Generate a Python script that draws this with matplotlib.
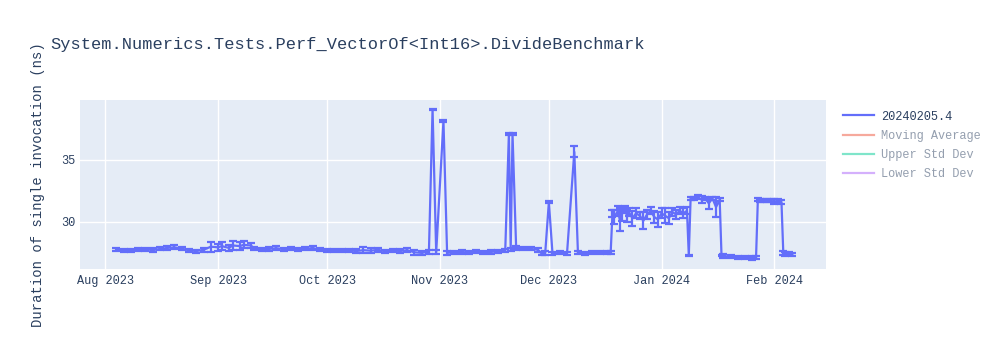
#!/usr/bin/env python3
"""
Benchmark duration chart (plotly-like look) for Perf_VectorOf<Int16>.DivideBenchmark
"""

import matplotlib
matplotlib.use('Agg')
import matplotlib.pyplot as plt
import matplotlib.dates as mdates
from matplotlib.lines import Line2D
import pandas as pd

TITLE = 'System.Numerics.Tests.Perf_VectorOf<Int16>.DivideBenchmark'
Y_LABEL = 'Duration of single invocation (ns)'
SERIES_NAME = '20240205.4'
HIDDEN_SERIES = ['Moving Average', 'Upper Std Dev', 'Lower Std Dev']
HIDDEN_COLORS = ['#EF553B', '#00cc96', '#ab63fa']

# run dates, mean duration (ns) and error (ns)
dates = [
    '2023-08-04', '2023-08-06', '2023-08-08', '2023-08-10', '2023-08-12',
    '2023-08-14', '2023-08-16', '2023-08-18', '2023-08-20', '2023-08-22',
    '2023-08-24', '2023-08-26', '2023-08-28', '2023-08-30', '2023-09-01',
    '2023-09-02', '2023-09-04', '2023-09-05', '2023-09-07', '2023-09-08',
    '2023-09-10', '2023-09-11', '2023-09-13', '2023-09-15', '2023-09-17',
    '2023-09-19', '2023-09-21', '2023-09-23', '2023-09-25', '2023-09-27',
    '2023-09-29', '2023-10-01', '2023-10-03', '2023-10-05', '2023-10-07',
    '2023-10-09', '2023-10-11', '2023-10-13', '2023-10-15', '2023-10-17',
    '2023-10-19', '2023-10-21', '2023-10-23', '2023-10-25', '2023-10-27',
    '2023-10-29', '2023-10-30', '2023-10-31', '2023-11-02', '2023-11-03',
    '2023-11-05', '2023-11-07', '2023-11-09', '2023-11-11', '2023-11-13',
    '2023-11-15', '2023-11-17', '2023-11-19', '2023-11-20', '2023-11-20 12:00',
    '2023-11-21', '2023-11-22', '2023-11-24', '2023-11-26', '2023-11-28',
    '2023-11-29', '2023-11-30', '2023-12-01', '2023-12-02', '2023-12-04',
    '2023-12-06', '2023-12-08', '2023-12-09', '2023-12-11', '2023-12-13',
    '2023-12-15', '2023-12-17', '2023-12-18', '2023-12-18 12:00', '2023-12-19',
    '2023-12-20', '2023-12-20 12:00', '2023-12-21', '2023-12-22', '2023-12-22 12:00',
    '2023-12-23', '2023-12-24', '2023-12-25', '2023-12-26', '2023-12-27',
    '2023-12-28', '2023-12-29', '2023-12-30', '2023-12-31', '2024-01-01',
    '2024-01-02', '2024-01-03', '2024-01-04', '2024-01-05', '2024-01-06',
    '2024-01-07', '2024-01-08', '2024-01-08 12:00', '2024-01-09', '2024-01-10',
    '2024-01-11', '2024-01-12', '2024-01-13', '2024-01-14', '2024-01-15',
    '2024-01-16', '2024-01-17', '2024-01-17 12:00', '2024-01-18', '2024-01-20',
    '2024-01-22', '2024-01-24', '2024-01-26', '2024-01-27', '2024-01-27 12:00',
    '2024-01-28', '2024-01-29', '2024-01-30', '2024-01-31', '2024-02-01',
    '2024-02-02', '2024-02-03', '2024-02-03 12:00', '2024-02-04', '2024-02-05',
    '2024-02-06',
]
durations = [
    27.75, 27.70, 27.68, 27.78, 27.80,
    27.72, 27.82, 27.90, 27.95, 27.85,
    27.70, 27.65, 27.75, 28.00, 27.95,
    28.05, 27.90, 28.10, 28.05, 28.15,
    28.10, 27.85, 27.80, 27.82, 27.88,
    27.80, 27.85, 27.78, 27.82, 27.90,
    27.75, 27.70, 27.72, 27.68, 27.70,
    27.65, 27.72, 27.68, 27.75, 27.62,
    27.70, 27.65, 27.72, 27.55, 27.50,
    27.60, 39.10, 27.55, 38.15, 27.50,
    27.55, 27.58, 27.52, 27.60, 27.55,
    27.58, 27.62, 27.70, 37.10, 27.80,
    37.10, 27.90, 27.85, 27.82, 27.75,
    27.45, 27.50, 31.60, 27.45, 27.50,
    27.48, 35.65, 27.50, 27.48, 27.52,
    27.55, 27.52, 27.50, 30.70, 30.40,
    30.90, 30.20, 30.60, 31.00, 30.50,
    30.80, 30.30, 30.70, 30.50, 30.10,
    30.60, 30.90, 30.40, 30.20, 30.70,
    30.50, 30.30, 30.80, 30.60, 30.90,
    30.70, 30.90, 27.30, 31.90, 31.90,
    32.00, 31.80, 31.90, 31.50, 31.90,
    31.20, 31.80, 27.30, 27.25, 27.20,
    27.15, 27.10, 27.08, 27.10, 31.80,
    31.75, 31.70, 31.75, 31.70, 31.65,
    31.70, 31.60, 27.50, 27.40, 27.45,
    27.40,
]
errors = [
    0.12, 0.10, 0.12, 0.14, 0.12,
    0.15, 0.12, 0.14, 0.15, 0.12,
    0.15, 0.12, 0.14, 0.40, 0.30,
    0.35, 0.25, 0.35, 0.30, 0.28,
    0.22, 0.12, 0.12, 0.14, 0.15,
    0.12, 0.14, 0.15, 0.12, 0.14,
    0.12, 0.10, 0.12, 0.10, 0.12,
    0.18, 0.22, 0.20, 0.15, 0.14,
    0.15, 0.14, 0.14, 0.18, 0.15,
    0.15, 0.05, 0.15, 0.05, 0.15,
    0.14, 0.14, 0.12, 0.14, 0.12,
    0.14, 0.12, 0.14, 0.05, 0.12,
    0.05, 0.14, 0.12, 0.12, 0.15,
    0.15, 0.15, 0.05, 0.14, 0.12,
    0.12, 0.45, 0.12, 0.12, 0.12,
    0.12, 0.12, 0.12, 0.30, 0.60,
    0.40, 0.90, 0.50, 0.30, 0.50,
    0.30, 0.60, 0.40, 0.30, 0.70,
    0.40, 0.30, 0.50, 0.60, 0.40,
    0.60, 0.50, 0.30, 0.40, 0.30,
    0.40, 0.30, 0.05, 0.12, 0.12,
    0.14, 0.30, 0.12, 0.45, 0.12,
    0.80, 0.12, 0.05, 0.14, 0.15,
    0.14, 0.12, 0.15, 0.12, 0.12,
    0.14, 0.12, 0.14, 0.12, 0.20,
    0.12, 0.14, 0.18, 0.14, 0.15,
    0.12,
]

LINE = '#636efa'
BG = '#E5ECF6'
TXT = '#2a3f5f'
FONT = 'Liberation Mono'

plt.rcParams['font.family'] = [FONT, 'DejaVu Sans']

x = pd.to_datetime(dates, format='mixed')

fig = plt.figure(figsize=(10, 3.5), dpi=100)
ax = fig.add_axes([0.08, 0.2314, 0.746, 0.4829])
ax.set_facecolor(BG)
for s in ax.spines.values():
    s.set_visible(False)

ax.errorbar(x, durations, yerr=errors, color=LINE, lw=1.6, elinewidth=1.6,
            capsize=3, capthick=1.6, zorder=3)

ax.set_xlim(pd.Timestamp('2023-07-25'), pd.Timestamp('2024-02-15 06:00'))
ax.set_ylim(26.2, 39.84)
ax.set_yticks([30, 35])
ax.xaxis.set_major_locator(mdates.MonthLocator())
ax.xaxis.set_major_formatter(mdates.DateFormatter('%b %Y'))
ax.grid(True, color='white', lw=1, zorder=0)
ax.set_axisbelow(True)
ax.tick_params(length=0, labelsize=8.6, labelcolor=TXT, pad=4)
ax.tick_params(axis='y', pad=3)

ax.set_ylabel(Y_LABEL, fontsize=10, color=TXT)
ax.yaxis.set_label_coords(-0.047, 0.5)

fig.text(0.05, 1 - 45 / 350, TITLE, fontsize=12.25, color=TXT, va='center', ha='left')

handles = [Line2D([], [], color=LINE, lw=1.6)]
labels = [SERIES_NAME]
for name, col in zip(HIDDEN_SERIES, HIDDEN_COLORS):
    handles.append(Line2D([], [], color=col, lw=1.6, alpha=0.5))
    labels.append(name)
leg = fig.legend(handles, labels, loc='upper left', bbox_to_anchor=(0.843, 0.684),
                 frameon=False, fontsize=8.6, handlelength=2.6, handletextpad=0.6,
                 labelspacing=0.6, borderaxespad=0, borderpad=0)
for i, t in enumerate(leg.get_texts()):
    t.set_color(TXT)
    if i > 0:
        t.set_alpha(0.5)

fig.savefig('out.png', dpi=100)
